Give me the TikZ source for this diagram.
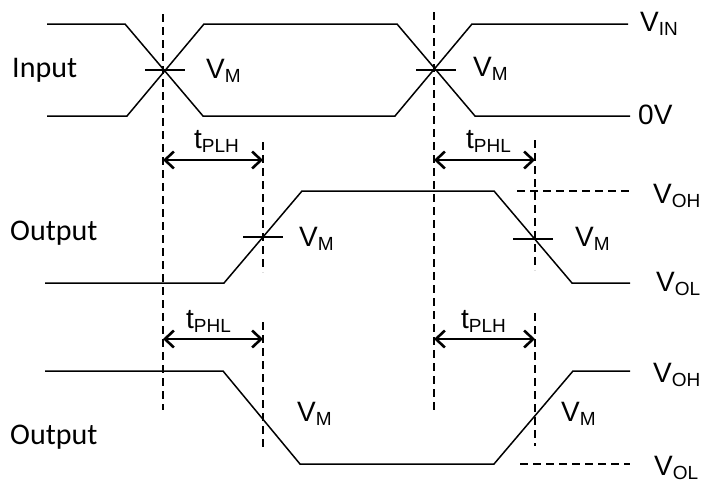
\documentclass[tikz,border=0pt]{standalone}
\usepackage{fontspec}
\setmainfont{Liberation Sans}
\newfontfamily\calfont{Carlito}
\usetikzlibrary{arrows.meta}
\newcommand{\sgl}[2]{{\fontsize{28}{28}\selectfont #1\raisebox{-4pt}{\fontsize{19}{19}\selectfont #2}}}
\tikzset{
  wave/.style={line width=1.5pt, line join=miter},
  guide/.style={line width=1.2pt, dash pattern=on 8pt off 5pt},
  tick/.style={line width=1.4pt},
  delay/.style={line width=2.6pt, {Straight Barb[length=9pt,width=17pt]}-{Straight Barb[length=9pt,width=17pt]}},
  lbl/.style={inner sep=0pt, anchor=base west},
  sig/.style={lbl, font=\calfont\fontsize{30}{30}\selectfont}
}
\begin{document}
\begin{tikzpicture}[x=1pt,y=-1pt]
\useasboundingbox (0,0) rectangle (702,483);
% guide coordinates
\coordinate (g1t) at (163,14);  \coordinate (g1b) at (163,410);
\coordinate (g2t) at (434,12);  \coordinate (g2b) at (434,410);
\coordinate (g3t) at (263,142); \coordinate (g3b) at (263,272);
\coordinate (g4t) at (535,140); \coordinate (g4b) at (535,270);
\coordinate (g5t) at (263,322); \coordinate (g5b) at (263,450);
\coordinate (g6t) at (535,313); \coordinate (g6b) at (535,446);
% input waveform
\draw[wave] (47,24) -- (125,24) -- (203,116) -- (395,116) -- (472,24) -- (628,24);
\draw[wave] (47,116) -- (127,116) -- (204,24) -- (397,24) -- (475,116) -- (630,116);
\draw[tick] (145,70) -- (185,70);
\draw[tick] (416,70) -- (456,70);
% middle output
\draw[wave] (45,283) -- (224,283) -- (302,191) -- (494,191) -- (572,283) -- (630,283);
\draw[guide] (517,191) -- (630,191);
\draw[tick] (243,237) -- (283,237);
\draw[tick] (513,239) -- (553,239);
% bottom output
\draw[wave] (45,371) -- (223,371) -- (300,464) -- (494,464) -- (573,371) -- (630,371);
\draw[guide] (520,464) -- (630,464);
% guides
\draw[guide] (g1t) -- (g1b);
\draw[guide] (g2t) -- (g2b);
\draw[guide] (g3t) -- (g3b);
\draw[guide] (g4t) -- (g4b);
\draw[guide] (g5t) -- (g5b);
\draw[guide] (g6t) -- (g6b);
% delay arrows
\draw[delay] (163,160) -- (263,160);
\draw[delay] (434,160) -- (535,160);
\draw[delay] (163,339) -- (263,339);
\draw[delay] (434,339) -- (535,339);
% labels
\node[sig] (in) at (12,77) {Input};
\node[sig] (out1) at (10,240) {Output};
\node[sig] (out2) at (10,444) {Output};
\node[lbl] (vin) at (640,31) {\sgl{V}{IN}};
\node[lbl] (zero) at (638,124) {\fontsize{28}{28}\selectfont 0V};
\node[lbl] (voh1) at (653,203) {\sgl{V}{OH}};
\node[lbl] (vol1) at (656,291) {\sgl{V}{OL}};
\node[lbl] (voh2) at (653,382) {\sgl{V}{OH}};
\node[lbl] (vol2) at (654,475) {\sgl{V}{OL}};
\node[lbl] (vm1) at (206,78) {\sgl{V}{M}};
\node[lbl] (vm2) at (473,76) {\sgl{V}{M}};
\node[lbl] (vm3) at (299,246) {\sgl{V}{M}};
\node[lbl] (vm4) at (575,246) {\sgl{V}{M}};
\node[lbl] (vm5) at (297,421) {\sgl{V}{M}};
\node[lbl] (vm6) at (561,421) {\sgl{V}{M}};
\node[lbl] (t1) at (194,148) {\sgl{t}{PLH}};
\node[lbl] (t2) at (466,148) {\sgl{t}{PHL}};
\node[lbl] (t3) at (186,328) {\sgl{t}{PHL}};
\node[lbl] (t4) at (461,328) {\sgl{t}{PLH}};
\end{tikzpicture}
\end{document}
